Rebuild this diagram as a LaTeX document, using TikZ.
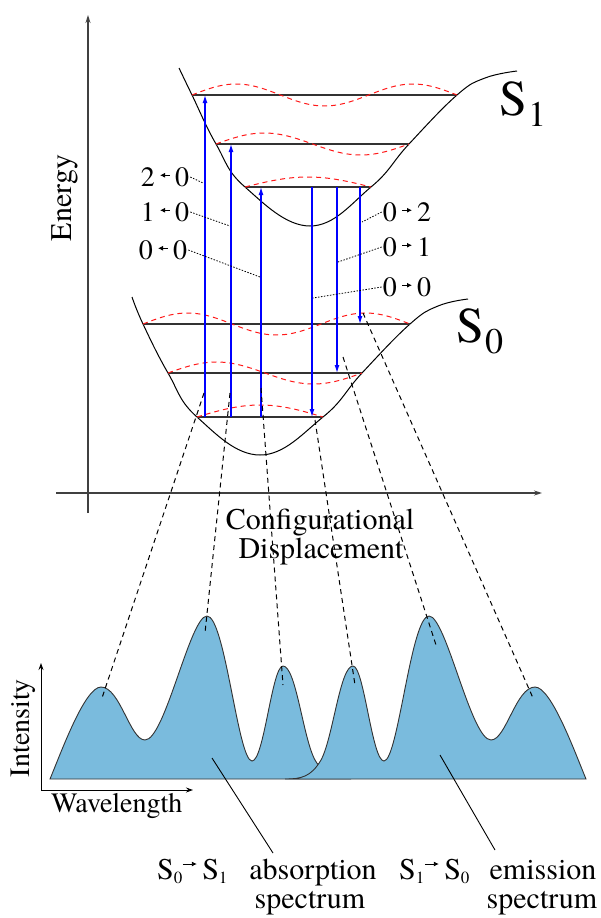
\documentclass[tikz,border=0pt]{standalone}
\usepackage{fontspec}
\IfFontExistsTF{texgyretermes-regular.otf}{\setmainfont{texgyretermes-regular.otf}}{}
\usetikzlibrary{arrows.meta}
\newcommand\fs[1]{\fontsize{#1}{#1}\selectfont}
\newcommand\larr{\tikz[x=1pt,y=1pt,baseline=-11pt]\draw[line width=0.9pt,{Latex[length=5pt,width=5pt]}-] (0,0)--(10,0);}
\newcommand\rarr{\tikz[x=1pt,y=1pt,baseline=-11pt]\draw[line width=0.9pt,-{Latex[length=5pt,width=5pt]}] (0,0)--(10,0);}
\newcommand\barr{\tikz[x=1pt,y=1pt,baseline=-15pt]\draw[line width=0.9pt,-{Latex[length=5pt,width=5pt]}] (0,0)--(14,0);}
\definecolor{specblue}{RGB}{122,187,221}
\def\specpath{(50,779) .. controls (62,750) and (85,687) .. (101,687)
  .. controls (120,687) and (130,740) .. (145,740)
  .. controls (165,740) and (190,616) .. (207,616)
  .. controls (225,616) and (238,761) .. (252,761)
  .. controls (264,761) and (272,666) .. (283,666)
  .. controls (296,666) and (303,738) .. (315,760)
  .. controls (325,777) and (335,779) .. (351,779) -- cycle}
\begin{document}
\begin{tikzpicture}[x=1pt,y=-1pt,
  axis/.style={draw=black!75, line width=1.2pt, -{Stealth[length=8pt,width=5pt]}},
  saxis/.style={draw=black, line width=1pt, -{Stealth[length=7pt,width=5pt]}},
  pes/.style={draw=black, line width=1pt},
  lvl/.style={draw=black!80, line width=1.3pt},
  wave/.style={draw=red!90!white, dash pattern=on 5pt off 4pt, line width=1pt},
  trans/.style={draw=blue, line width=1.2pt, -{Latex[length=8pt,width=5pt]}},
  lead/.style={draw=black, line width=0.8pt, dash pattern=on 1.5pt off 1.5pt},
  fcline/.style={draw=black, line width=1pt, dash pattern=on 5pt off 4pt},
  spec/.style={fill=specblue, draw=black!80, line width=0.9pt},
  lbl/.style={font=\fs{28}, inner sep=1pt},
  big/.style={font=\fs{30}, inner sep=0pt},
  pointer/.style={draw=black, line width=0.9pt}]
\useasboundingbox (0,0) rectangle (601,918);

% axes
\coordinate (eB) at (88,513); \coordinate (eT) at (88,15);
\coordinate (cL) at (56,493); \coordinate (cR) at (542,493);
\draw[axis] (eB) -- (eT);
\draw[axis] (cL) -- (cR);
\node[big, rotate=90] (energy) at (65,198) {Energy};
\node[big, anchor=base] (conf) at (320,529) {Configurational};
\node[big, anchor=base] (disp) at (321,558) {Displacement};

% potential curves
\draw[pes] plot[smooth, tension=0.7] coordinates {(179,68) (192,95) (216,144) (245,187) (310,226) (371,187) (409,144) (457,95) (485,78) (517,71)};
\draw[pes] plot[smooth, tension=0.7] coordinates {(132,297) (143,324) (168,373) (197,417) (260,455) (323,417) (362,373) (410,324) (438,306) (468,299)};

% vibrational levels
\draw[lvl] (192,95) -- (457,95);
\draw[lvl] (216,144) -- (409,144);
\draw[lvl] (245,187) -- (371,187);
\draw[lvl] (143,324) -- (410,324);
\draw[lvl] (168,373) -- (362,373);
\draw[lvl] (197,417) -- (323,417);

% wavefunctions
\draw[wave] plot[domain=0:1, samples=90] ({192+265*\x},{95-11*sin(540*\x)});
\draw[wave] plot[domain=0:1, samples=70] ({216+193*\x},{144-11*sin(360*\x)});
\draw[wave] plot[domain=0:1, samples=50] ({245+126*\x},{187-10*sin(180*\x)});
\draw[wave] plot[domain=0:1, samples=90] ({143+267*\x},{324-11*sin(540*\x)});
\draw[wave] plot[domain=0:1, samples=70] ({168+194*\x},{373-11*sin(360*\x)});
\draw[wave] plot[domain=0:1, samples=50] ({197+126*\x},{417-12*sin(180*\x)});

% state labels
\node[inner sep=0pt, anchor=base west] (S1) at (499,115) {\fs{50}S\kern1pt\raisebox{-11pt}{\fs{36}1}};
\node[inner sep=0pt, anchor=base west] (S0) at (456,342) {\fs{50}S\kern1pt\raisebox{-11pt}{\fs{36}0}};

% transitions
\coordinate (a1s) at (205,417); \coordinate (a1e) at (205,95);
\coordinate (a2s) at (231,417); \coordinate (a2e) at (231,144);
\coordinate (a3s) at (261,417); \coordinate (a3e) at (261,187);
\coordinate (e1s) at (312,187); \coordinate (e1e) at (312,417);
\coordinate (e2s) at (337,187); \coordinate (e2e) at (337,373);
\coordinate (e3s) at (360,187); \coordinate (e3e) at (360,324);
\draw[trans] (a1s) -- (a1e);
\draw[trans] (a2s) -- (a2e);
\draw[trans] (a3s) -- (a3e);
\draw[trans] (e1s) -- (e1e);
\draw[trans] (e2s) -- (e2e);
\draw[trans] (e3s) -- (e3e);

% transition labels
\node[lbl] (l20) at (165,177) {2\,\larr\,0};
\node[lbl] (l10) at (165,212) {1\,\larr\,0};
\node[lbl] (l00) at (163,250) {0\,\larr\,0};
\node[lbl] (r02) at (407,212) {0\,\rarr\,2};
\node[lbl] (r01) at (407,247) {0\,\rarr\,1};
\node[lbl] (r00) at (407,287) {0\,\rarr\,0};
\coordinate (p20) at (203,183);
\coordinate (p10) at (230,226);
\coordinate (p00) at (260,277);
\coordinate (q02) at (362,222);
\coordinate (q01) at (338,262);
\coordinate (q00) at (313,298);
\draw[lead] (l20.east) -- (p20);
\draw[lead] (l10.east) -- (p10);
\draw[lead] (l00.east) -- (p00);
\draw[lead] (r02.west) -- (q02);
\draw[lead] (r01.west) -- (q01);
\draw[lead] (r00.west) -- (q00);

% spectra
\draw[spec] \specpath;
\begin{scope}[xshift=636pt, xscale=-1]
\draw[spec] \specpath;
\end{scope}

% Franck-Condon projection lines
\coordinate (f1s) at (204,393); \coordinate (f1e) at (102,698);
\coordinate (f2s) at (230,393); \coordinate (f2e) at (205,633);
\coordinate (f3s) at (261,388); \coordinate (f3e) at (283,685);
\coordinate (f4s) at (315,420); \coordinate (f4e) at (355,685);
\coordinate (f5s) at (343,357); \coordinate (f5e) at (436,645);
\coordinate (f6s) at (363,313); \coordinate (f6e) at (533,698);
\draw[fcline] (f1s) -- (f1e);
\draw[fcline] (f2s) -- (f2e);
\draw[fcline] (f3s) -- (f3e);
\draw[fcline] (f4s) -- (f4e);
\draw[fcline] (f5s) -- (f5e);
\draw[fcline] (f6s) -- (f6e);

% spectrum axes
\coordinate (o) at (41,790); \coordinate (iT) at (41,663); \coordinate (wR) at (193,790);
\draw[saxis] (o) -- (iT);
\draw[saxis] (o) -- (wR);
\node[font=\fs{28}, inner sep=0pt, rotate=90] (int) at (23,728) {Intensity};
\node[font=\fs{28}, inner sep=0pt, anchor=base west] (wav) at (51,812) {Wavelength};

% bottom labels
\node[big, anchor=base west] (absS) at (157,879) {S\raisebox{-4pt}{\fs{17}0}\barr\,S\raisebox{-4pt}{\fs{17}1}};
\node[big, anchor=base] (absT) at (313,879) {absorption};
\node[big, anchor=base] (absT2) at (310,908) {spectrum};
\node[big, anchor=base west] (emS) at (399,879) {S\raisebox{-4pt}{\fs{17}1}\barr\,S\raisebox{-4pt}{\fs{17}0}};
\node[big, anchor=base] (emT) at (543,879) {emission};
\node[big, anchor=base] (emT2) at (542,908) {spectrum};
\coordinate (ap) at (212,758); \coordinate (ape) at (273,853);
\coordinate (ep) at (440,755); \coordinate (epe) at (495,850);
\draw[pointer] (ap) -- (ape);
\draw[pointer] (ep) -- (epe);
\end{tikzpicture}
\end{document}
